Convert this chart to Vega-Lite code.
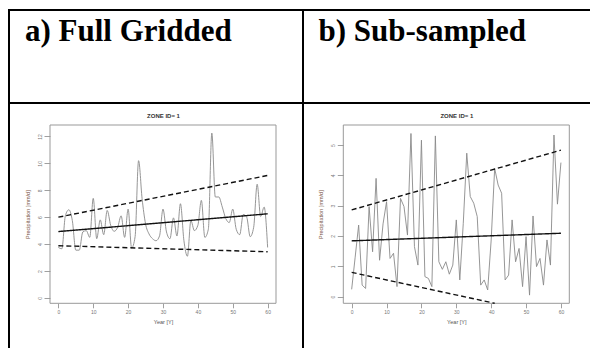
{
  "$schema": "https://vega.github.io/schema/vega-lite/v6.json",
  "padding": {"left": 8, "top": 9, "right": 0, "bottom": 0},
  "background": "white",
  "bounds": "flush",
  "spacing": 0,
  "columns": 2,
  "config": {"view": {"stroke": null}, "font": "Liberation Sans", "axis": {"grid": false, "labelFlush": false, "labelOverlap": false}},
  "datasets": {
    "full": [
      {"year": 0, "precip": 3.75}, {"year": 1, "precip": 3.65}, {"year": 2, "precip": 6.1}, {"year": 3, "precip": 6.55}, {"year": 4, "precip": 5.75},
      {"year": 5, "precip": 3.55}, {"year": 6, "precip": 3.55}, {"year": 7, "precip": 4.9}, {"year": 8, "precip": 5.0}, {"year": 9, "precip": 4.5},
      {"year": 10, "precip": 7.4}, {"year": 11, "precip": 4.4}, {"year": 12, "precip": 5.8}, {"year": 13, "precip": 4.7}, {"year": 14, "precip": 6.5},
      {"year": 15, "precip": 5.4}, {"year": 16, "precip": 4.95}, {"year": 17, "precip": 5.25}, {"year": 18, "precip": 6.1}, {"year": 19, "precip": 4.5},
      {"year": 20, "precip": 6.6}, {"year": 21, "precip": 3.7}, {"year": 22, "precip": 4.55}, {"year": 23, "precip": 10.2}, {"year": 24, "precip": 7.4},
      {"year": 25, "precip": 5.5}, {"year": 26, "precip": 4.75}, {"year": 27, "precip": 4.4}, {"year": 28, "precip": 4.25}, {"year": 29, "precip": 4.6},
      {"year": 30, "precip": 6.6}, {"year": 31, "precip": 4.9}, {"year": 32, "precip": 4.4}, {"year": 33, "precip": 5.95}, {"year": 34, "precip": 4.6},
      {"year": 35, "precip": 7.0}, {"year": 36, "precip": 4.25}, {"year": 37, "precip": 3.1}, {"year": 38, "precip": 5.75}, {"year": 39, "precip": 5.0},
      {"year": 40, "precip": 5.4}, {"year": 41, "precip": 7.25}, {"year": 42, "precip": 4.5}, {"year": 43, "precip": 5.1}, {"year": 44, "precip": 12.25},
      {"year": 45, "precip": 7.5}, {"year": 46, "precip": 7.5}, {"year": 47, "precip": 6.75}, {"year": 48, "precip": 5.9}, {"year": 49, "precip": 5.6},
      {"year": 50, "precip": 6.6}, {"year": 51, "precip": 5.1}, {"year": 52, "precip": 4.7}, {"year": 53, "precip": 6.2}, {"year": 54, "precip": 6.0},
      {"year": 55, "precip": 4.55}, {"year": 56, "precip": 5.25}, {"year": 57, "precip": 8.45}, {"year": 58, "precip": 6.05}, {"year": 59, "precip": 6.75},
      {"year": 60, "precip": 3.75}
    ],
    "full_fit": [
      {"line": "trend", "year": 0, "precip": 4.93}, {"line": "trend", "year": 60, "precip": 6.25},
      {"line": "upper", "year": 0, "precip": 6.0}, {"line": "upper", "year": 60, "precip": 9.1},
      {"line": "lower", "year": 0, "precip": 3.88}, {"line": "lower", "year": 60, "precip": 3.43}
    ],
    "sub": [
      {"year": 0, "precip": 0.24}, {"year": 1, "precip": 1.3}, {"year": 2, "precip": 2.36}, {"year": 3, "precip": 0.38}, {"year": 4, "precip": 0.27},
      {"year": 5, "precip": 2.97}, {"year": 6, "precip": 1.48}, {"year": 7, "precip": 3.9}, {"year": 8, "precip": 1.2}, {"year": 9, "precip": 2.4},
      {"year": 10, "precip": 3.13}, {"year": 11, "precip": 1.26}, {"year": 12, "precip": 1.43}, {"year": 13, "precip": 0.33}, {"year": 14, "precip": 3.24},
      {"year": 15, "precip": 2.97}, {"year": 16, "precip": 2.03}, {"year": 17, "precip": 5.38}, {"year": 18, "precip": 1.65}, {"year": 19, "precip": 1.04},
      {"year": 20, "precip": 5.16}, {"year": 21, "precip": 0.66}, {"year": 22, "precip": 0.6}, {"year": 23, "precip": 0.33}, {"year": 24, "precip": 5.3},
      {"year": 25, "precip": 1.15}, {"year": 26, "precip": 0.9}, {"year": 27, "precip": 1.15}, {"year": 28, "precip": 0.74}, {"year": 29, "precip": 1.04},
      {"year": 30, "precip": 2.53}, {"year": 31, "precip": 0.55}, {"year": 32, "precip": 2.42}, {"year": 33, "precip": 4.73}, {"year": 34, "precip": 3.3},
      {"year": 35, "precip": 3.08}, {"year": 36, "precip": 2.64}, {"year": 37, "precip": 0.38}, {"year": 38, "precip": 0.55}, {"year": 39, "precip": 0.22},
      {"year": 40, "precip": 1.87}, {"year": 41, "precip": 4.23}, {"year": 42, "precip": 3.68}, {"year": 43, "precip": 3.41}, {"year": 44, "precip": 0.55},
      {"year": 45, "precip": 0.71}, {"year": 46, "precip": 2.53}, {"year": 47, "precip": 1.15}, {"year": 48, "precip": 1.59}, {"year": 49, "precip": 0.33},
      {"year": 50, "precip": 1.98}, {"year": 51, "precip": 0.05}, {"year": 52, "precip": 2.66}, {"year": 53, "precip": 0.99}, {"year": 54, "precip": 1.26},
      {"year": 55, "precip": 0.38}, {"year": 56, "precip": 1.87}, {"year": 57, "precip": 1.04}, {"year": 58, "precip": 5.33}, {"year": 59, "precip": 3.05},
      {"year": 60, "precip": 4.42}
    ],
    "sub_fit": [
      {"line": "trend", "year": 0, "precip": 1.84}, {"line": "trend", "year": 60, "precip": 2.09},
      {"line": "upper", "year": 0, "precip": 2.86}, {"line": "upper", "year": 60, "precip": 4.83},
      {"line": "lower", "year": 0, "precip": 0.8}, {"line": "lower", "year": 41, "precip": -0.22}
    ]
  },
  "concat": [
    {
      "width": 294, "height": 93,
      "data": {"values": []},
      "mark": "point",
      "encoding": {
        "x": {"field": "v", "type": "quantitative",
          "scale": {"domain": [0, 1], "range": [15.5, 294]},
          "axis": {"orient": "top", "offset": -30.5, "labels": false, "ticks": false, "domain": false, "grid": false,
            "title": "a) Full Gridded", "titleAnchor": "start", "titleAlign": "left", "titleBaseline": "alphabetic", "titlePadding": 0,
            "titleFont": "Liberation Serif", "titleFontSize": 31, "titleFontWeight": "bold", "titleColor": "black"}}
      },
      "view": {"stroke": "black", "strokeWidth": 2}
    },
    {
      "width": 287, "height": 93,
      "data": {"values": []},
      "mark": "point",
      "encoding": {
        "x": {"field": "v", "type": "quantitative",
          "scale": {"domain": [0, 1], "range": [15, 287]},
          "axis": {"orient": "top", "offset": -30.5, "labels": false, "ticks": false, "domain": false, "grid": false,
            "title": "b) Sub-sampled", "titleAnchor": "start", "titleAlign": "left", "titleBaseline": "alphabetic", "titlePadding": 0,
            "titleFont": "Liberation Serif", "titleFontSize": 31, "titleFontWeight": "bold", "titleColor": "black"}}
      },
      "view": {"stroke": "black", "strokeWidth": 2, "strokeDash": [287, 93, 380]}
    },
    {
      "width": 294, "height": 245,
      "view": {"stroke": "black", "strokeWidth": 2, "strokeDash": [539, 294, 245]},
      "resolve": {"axis": {"x": "independent"}},
      "layer": [
        {
          "data": {"values": [{"frame": "box"}]},
          "mark": {"type": "rect", "fill": null, "stroke": "#999", "strokeWidth": 1},
          "encoding": {
            "x": {"datum": -2.4, "type": "quantitative",
              "axis": {"orient": "top", "offset": -14, "labels": false, "ticks": false, "domain": false, "grid": false,
                "title": "ZONE ID= 1", "titleAnchor": "middle", "titleBaseline": "alphabetic", "titlePadding": 0,
                "titleFont": "Liberation Sans", "titleFontSize": 6, "titleFontWeight": "bold", "titleColor": "#333"}},
            "x2": {"datum": 62.4},
            "y": {"datum": -0.4, "type": "quantitative"},
            "y2": {"datum": 12.85}
          }
        },
        {
          "data": {"name": "full"},
          "mark": {"type": "line", "color": "#8a8a8a", "strokeWidth": 0.9, "interpolate": "monotone"},
          "encoding": {
            "x": {"field": "year", "type": "quantitative",
              "scale": {"domain": [-2.4, 62.4], "range": [41, 267], "nice": false, "zero": false},
              "axis": {"orient": "bottom", "values": [0, 10, 20, 30, 40, 50, 60], "offset": -44.7, "domain": false, "tickSize": 4.5, "tickColor": "#888", "tickWidth": 0.8, "labelFontSize": 5, "labelColor": "#777", "labelPadding": 2, "title": "Year [Y]", "titleFontSize": 5.5, "titleFontWeight": "normal", "titleColor": "#555", "titlePadding": 5}},
            "y": {"field": "precip", "type": "quantitative",
              "scale": {"domain": [-0.4, 12.85], "range": [200.3, 22], "nice": false, "zero": false},
              "axis": {"values": [0, 2, 4, 6, 8, 10, 12], "offset": -41, "domain": false, "tickSize": 6, "tickColor": "#888", "tickWidth": 0.8, "labelFontSize": 5, "labelColor": "#777", "labelPadding": 2, "labelAngle": 270, "labelAlign": "center", "labelBaseline": "bottom", "title": "Precipitation [mm/d]", "titleFontSize": 5.5, "titleFontWeight": "normal", "titleColor": "#7a5548", "titlePadding": 7}}
          }
        },
        {
          "data": {"name": "full_fit"},
          "mark": {"type": "line", "color": "#111", "strokeWidth": 1.4},
          "encoding": {
            "x": {"field": "year", "type": "quantitative", "axis": null},
            "y": {"field": "precip", "type": "quantitative"},
            "detail": {"field": "line", "type": "nominal"},
            "strokeDash": {"field": "line", "type": "nominal", "scale": {"domain": ["trend", "upper", "lower"], "range": [[1, 0], [5, 3], [5, 3]]}, "legend": null}
          }
        }
      ]
    },
    {
      "width": 287, "height": 245,
      "resolve": {"axis": {"x": "independent"}},
      "layer": [
        {
          "data": {"values": [{"frame": "box"}]},
          "mark": {"type": "rect", "fill": null, "stroke": "#999", "strokeWidth": 1},
          "encoding": {
            "x": {"datum": -2.4, "type": "quantitative",
              "axis": {"orient": "top", "offset": -14, "labels": false, "ticks": false, "domain": false, "grid": false,
                "title": "ZONE ID= 1", "titleAnchor": "middle", "titleBaseline": "alphabetic", "titlePadding": 0,
                "titleFont": "Liberation Sans", "titleFontSize": 6, "titleFontWeight": "bold", "titleColor": "#333"}},
            "x2": {"datum": 62.4},
            "y": {"datum": -0.22, "type": "quantitative"},
            "y2": {"datum": 5.66}
          }
        },
        {
          "data": {"name": "sub"},
          "mark": {"type": "line", "color": "#8a8a8a", "strokeWidth": 0.9},
          "encoding": {
            "x": {"field": "year", "type": "quantitative",
              "scale": {"domain": [-2.4, 62.4], "range": [40.3, 266.3], "nice": false, "zero": false},
              "axis": {"orient": "bottom", "values": [0, 10, 20, 30, 40, 50, 60], "offset": -44.7, "domain": false, "tickSize": 4.5, "tickColor": "#888", "tickWidth": 0.8, "labelFontSize": 5, "labelColor": "#777", "labelPadding": 2, "title": "Year [Y]", "titleFontSize": 5.5, "titleFontWeight": "normal", "titleColor": "#555", "titlePadding": 5}},
            "y": {"field": "precip", "type": "quantitative",
              "scale": {"domain": [-0.22, 5.66], "range": [200.3, 22], "nice": false, "zero": false},
              "axis": {"values": [0, 1, 2, 3, 4, 5], "offset": -40.3, "domain": false, "tickSize": 6, "tickColor": "#888", "tickWidth": 0.8, "labelFontSize": 5, "labelColor": "#777", "labelPadding": 2, "labelAngle": 270, "labelAlign": "center", "labelBaseline": "bottom", "title": "Precipitation [mm/d]", "titleFontSize": 5.5, "titleFontWeight": "normal", "titleColor": "#7a5548", "titlePadding": 7}}
          }
        },
        {
          "data": {"name": "sub_fit"},
          "mark": {"type": "line", "color": "#111", "strokeWidth": 1.4},
          "encoding": {
            "x": {"field": "year", "type": "quantitative", "axis": null},
            "y": {"field": "precip", "type": "quantitative"},
            "detail": {"field": "line", "type": "nominal"},
            "strokeDash": {"field": "line", "type": "nominal", "scale": {"domain": ["trend", "upper", "lower"], "range": [[1, 0], [5, 3], [5, 3]]}, "legend": null}
          }
        }
      ]
    }
  ]
}
